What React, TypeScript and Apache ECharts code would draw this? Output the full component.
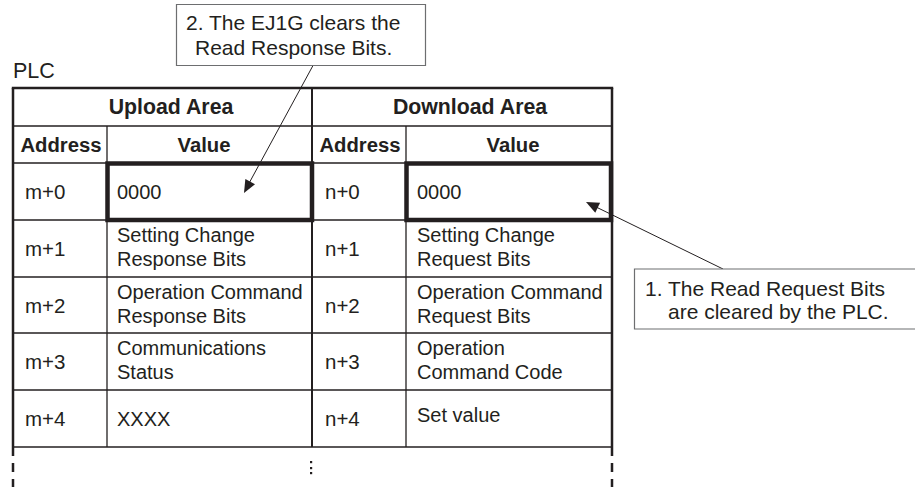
import React, { useEffect, useRef } from "react";
import * as echarts from "echarts";

const titleText = "PLC";
const areaHeaders = ["Upload Area", "Download Area"];
const columnHeaders = ["Address", "Value"];
const uploadAddresses = ["m+0", "m+1", "m+2", "m+3", "m+4"];
const uploadValues = ["0000", "Setting Change\nResponse Bits", "Operation Command\nResponse Bits", "Communications\nStatus", "XXXX"];
const downloadAddresses = ["n+0", "n+1", "n+2", "n+3", "n+4"];
const downloadValues = ["0000", "Setting Change\nRequest Bits", "Operation Command\nRequest Bits", "Operation\nCommand Code", "Set value"];
const callout1Lines = ["1. The Read Request Bits", "are cleared by the PLC."];
const callout2Lines = ["2. The EJ1G clears the", "Read Response Bits."];

const FONT = "'Liberation Sans', Arial, Helvetica, sans-serif";
const INK = "#231f20";

function arrowHead(x1: number, y1: number, x2: number, y2: number, len: number, half: number) {
  const dx = x2 - x1;
  const dy = y2 - y1;
  const d = Math.sqrt(dx * dx + dy * dy);
  const ux = dx / d;
  const uy = dy / d;
  const bx = x2 - ux * len;
  const by = y2 - uy * len;
  return [
    [x2, y2],
    [bx - uy * half, by + ux * half],
    [bx + uy * half, by - ux * half],
  ];
}

export default function App() {
  const ref = useRef<HTMLDivElement>(null);
  useEffect(() => {
    document.body.style.margin = "0";
    if (!ref.current) return;
    const chart = echarts.init(ref.current, undefined, { renderer: "svg" });

    const L = 13, R = 612, MID = 312, A1 = 107, A2 = 406;
    const yTop = 88, yH1 = 126, yH2 = 163;
    const rowY = [163, 220, 277, 333, 390, 447];

    const els: any[] = [];
    const line = (x1: number, y1: number, x2: number, y2: number, w: number, color = INK, dash?: number[]) =>
      els.push({
        type: "line",
        shape: { x1, y1, x2, y2 },
        style: { stroke: color, lineWidth: w, lineDash: dash },
        z: 5,
      });
    const text = (t: string, x: number, y: number, opts: any = {}) =>
      els.push({
        type: "text",
        x,
        y,
        style: {
          text: t,
          fontFamily: FONT,
          fontSize: opts.size || 20,
          fontWeight: opts.bold ? "bold" : "normal",
          fill: opts.color || INK,
          align: opts.align || "left",
          verticalAlign: "middle",
          lineHeight: opts.lh || 24,
        },
        z: 10,
      });

    // title
    text(titleText, 13, 71, { size: 21.5 });

    // inner thin lines
    line(L, yH1, R, yH1, 1.3);
    line(L, yH2, R, yH2, 1.3);
    for (let i = 1; i < rowY.length; i++) line(L, rowY[i], R, rowY[i], 1.3);
    line(A1, yH1, A1, rowY[5], 1.3);
    line(A2, yH1, A2, rowY[5], 1.3);
    line(MID, yTop, MID, rowY[5], 2);
    // outer border
    line(L - 1.2, yTop, R + 1.2, yTop, 2.5);
    line(L, yTop, L, rowY[5], 2.5);
    line(R, yTop, R, rowY[5], 2.5);
    // dashed continuation
    line(L, rowY[5], L, 487, 2.5, INK, [9, 7]);
    line(R, rowY[5], R, 487, 2.5, INK, [9, 7]);
    // dots
    [462, 468, 473].forEach((y) =>
      els.push({ type: "rect", shape: { x: 310, y: y - 1, width: 2.2, height: 2.2 }, style: { fill: INK }, z: 5 })
    );

    // thick boxes
    els.push({ type: "rect", shape: { x: A1 + 0.5, y: rowY[0] + 0.5, width: MID - A1 - 0.5, height: rowY[1] - rowY[0] - 0.5 }, style: { fill: "none", stroke: INK, lineWidth: 4.5 }, z: 6 });
    els.push({ type: "rect", shape: { x: A2 + 0.5, y: rowY[0] + 0.5, width: R - A2 - 1.5, height: rowY[1] - rowY[0] - 0.5 }, style: { fill: "none", stroke: INK, lineWidth: 4.5 }, z: 6 });

    // headers
    text(areaHeaders[0], 171, 107, { bold: true, align: "center", size: 21.3 });
    text(areaHeaders[1], 470, 107, { bold: true, align: "center", size: 21.3 });
    text(columnHeaders[0], 61, 144.5, { bold: true, align: "center", size: 20.3 });
    text(columnHeaders[1], 204, 144.5, { bold: true, align: "center", size: 20.3 });
    text(columnHeaders[0], 360, 144.5, { bold: true, align: "center", size: 20.3 });
    text(columnHeaders[1], 513, 144.5, { bold: true, align: "center", size: 20.3 });

    // rows
    for (let i = 0; i < 5; i++) {
      const cy = (rowY[i] + rowY[i + 1]) / 2;
      const vy = uploadValues[i].includes("\n") ? cy - 1.5 : cy;
      const dvy = downloadValues[i].includes("\n") ? cy - 1.5 : i === 4 ? cy - 3.5 : cy;
      text(uploadAddresses[i], 25, cy, { size: 20.5 });
      text(uploadValues[i], 117, vy);
      text(downloadAddresses[i], 325, cy, { size: 20.5 });
      text(downloadValues[i], 417, dvy);
    }

    // callout 2
    els.push({ type: "rect", shape: { x: 176.5, y: 4.5, width: 249, height: 61 }, style: { fill: "#fff", stroke: "#6d6e70", lineWidth: 1.2 }, z: 7 });
    text(callout2Lines[0], 186, 22.5, { size: 21 });
    text(callout2Lines[1], 195, 47.5, { size: 21 });
    const a2 = { x1: 313, y1: 65.5, x2: 244, y2: 193 };
    line(a2.x1, a2.y1, a2.x2 + 3, a2.y2 - 6, 1, INK);
    els.push({ type: "polygon", shape: { points: arrowHead(a2.x1, a2.y1, a2.x2, a2.y2, 13, 5.5) }, style: { fill: INK }, z: 9 });

    // callout 1
    els.push({ type: "rect", shape: { x: 634.5, y: 269, width: 290, height: 60 }, style: { fill: "#fff", stroke: "#6d6e70", lineWidth: 1.2 }, z: 7 });
    text(callout1Lines[0], 645, 288, { size: 21 });
    text(callout1Lines[1], 668, 311, { size: 21 });
    const a1 = { x1: 723, y1: 269, x2: 586, y2: 202 };
    line(a1.x1, a1.y1, a1.x2 + 6, a1.y2 + 3, 1, INK);
    els.push({ type: "polygon", shape: { points: arrowHead(a1.x1, a1.y1, a1.x2, a1.y2, 13, 5.5) }, style: { fill: INK }, z: 9 });

    chart.setOption({
      animation: false,
      backgroundColor: "#ffffff",
      graphic: { elements: els },
    });
    return () => chart.dispose();
  }, []);
  return <div ref={ref} style={{ width: 915, height: 487 }} />;
}
